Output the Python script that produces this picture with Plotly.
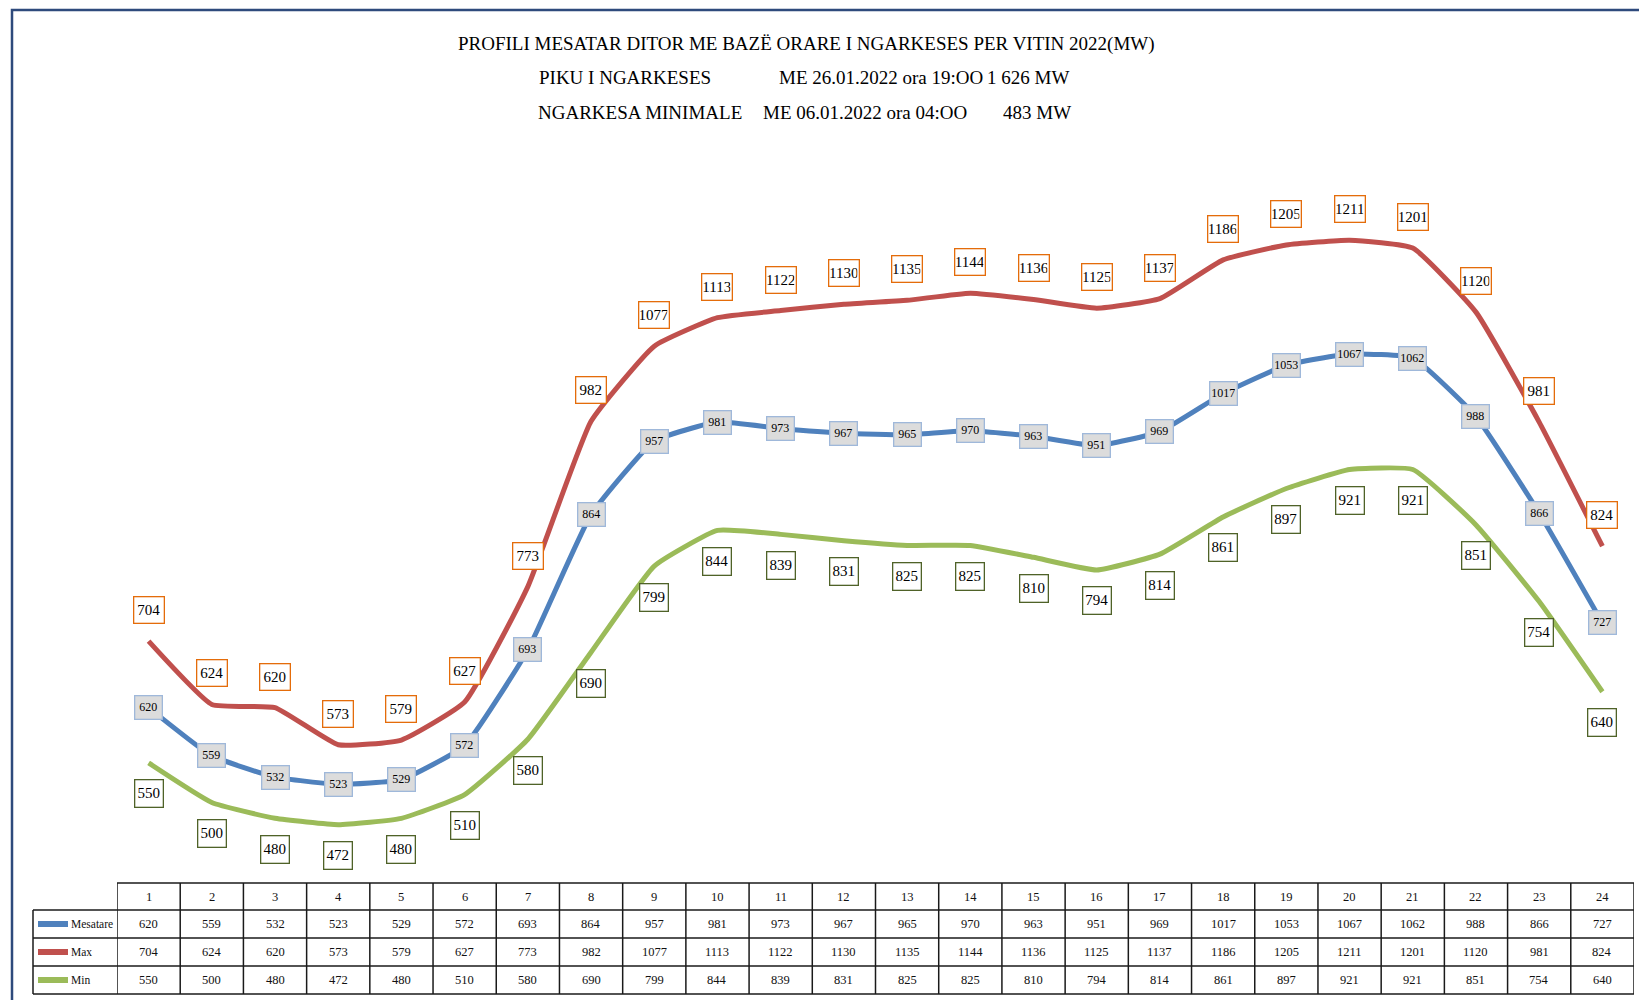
import plotly.graph_objects as go

# ---------------- data ----------------
hours = list(range(1, 25))
mesatare = [620, 559, 532, 523, 529, 572, 693, 864, 957, 981, 973, 967,
            965, 970, 963, 951, 969, 1017, 1053, 1067, 1062, 988, 866, 727]
maks = [704, 624, 620, 573, 579, 627, 773, 982, 1077, 1113, 1122, 1130,
        1135, 1144, 1136, 1125, 1137, 1186, 1205, 1211, 1201, 1120, 981, 824]
mins = [550, 500, 480, 472, 480, 510, 580, 690, 799, 844, 839, 831,
        825, 825, 810, 794, 814, 861, 897, 921, 921, 851, 754, 640]
series_names = ["Mesatare", "Max", "Min"]

title_line1 = "PROFILI MESATAR DITOR ME BAZË ORARE I NGARKESES PER VITIN 2022(MW)"
title_parts2 = ["PIKU I NGARKESES", "ME 26.01.2022 ora 19:OO", "1 626 MW"]
title_parts3 = ["NGARKESA MINIMALE", "ME 06.01.2022 ora 04:OO", "483 MW"]

# ---------------- layout helpers ----------------
W, H = 1639, 1000
ML, MR, MT, MB = 117, 5, 150, 120
PW = W - ML - MR
PH = H - MT - MB


def fx(px):
    return (px - ML) / PW


def fy(py):
    return (H - MB - py) / PH


FONT = "Liberation Serif, Times New Roman, serif"
colors = {"Mesatare": "#4F81BD", "Max": "#C0504D", "Min": "#9BBB59"}
values = {"Mesatare": mesatare, "Max": maks, "Min": mins}

fig = go.Figure()
for name in ["Max", "Mesatare", "Min"]:
    fig.add_trace(go.Scatter(
        x=hours, y=values[name], name=name, mode="lines",
        line=dict(color=colors[name], width=5, shape="spline", smoothing=0.4),
        showlegend=False, hoverinfo="x+y+name"))

annotations = []
shapes = []

# data labels
label_style = {
    "Max": dict(bordercolor="#E46C0A", bgcolor="#FFFFFF", size=15, w=27, h=23, shift=31),
    "Mesatare": dict(bordercolor="#9FB8DA", bgcolor="#DCDCDC", size=12, w=24, h=20, shift=0),
    "Min": dict(bordercolor="#4F6228", bgcolor="#FFFFFF", size=15, w=25, h=24, shift=-31),
}
for name in series_names:
    st = label_style[name]
    for h, v in zip(hours, values[name]):
        annotations.append(dict(
            x=h, y=v, xref="x", yref="y", text=str(v), showarrow=False,
            yshift=st["shift"], width=st["w"], height=st["h"],
            bordercolor=st["bordercolor"], borderwidth=1.3, borderpad=1,
            bgcolor=st["bgcolor"],
            font=dict(family=FONT, size=st["size"], color="#000000")))

# titles
tfont = dict(family=FONT, size=19, color="#000")
annotations.append(dict(x=fx(806), y=fy(44), xref="paper", yref="paper",
                        text=title_line1, showarrow=False, xanchor="center",
                        yanchor="middle", font=tfont))
for txt, xp, anc in zip(title_parts2, [537, 777, 1071], ["left", "left", "right"]):
    annotations.append(dict(x=fx(xp), y=fy(78), xref="paper", yref="paper",
                            text=txt, showarrow=False, xanchor=anc,
                            yanchor="middle", font=tfont))
for txt, xp, anc in zip(title_parts3, [536, 761, 1073], ["left", "left", "right"]):
    annotations.append(dict(x=fx(xp), y=fy(113), xref="paper", yref="paper",
                            text=txt, showarrow=False, xanchor=anc,
                            yanchor="middle", font=tfont))

# ---------------- data table ----------------
row_edges = [883, 910, 938, 966, 994]
label_left = 33
line_c = "#1a1a1a"
cfont = dict(family=FONT, size=12.5, color="#111")
# vertical lines of data columns
for k in range(25):
    shapes.append(dict(type="line", xref="x", yref="paper",
                       x0=0.5 + k, x1=0.5 + k, y0=fy(row_edges[0]), y1=fy(row_edges[-1]),
                       line=dict(color=line_c, width=1.5)))
# label column left edge
shapes.append(dict(type="line", xref="paper", yref="paper",
                   x0=fx(label_left), x1=fx(label_left), y0=fy(row_edges[1]), y1=fy(row_edges[-1]),
                   line=dict(color=line_c, width=1.5)))
# horizontal lines
shapes.append(dict(type="line", xref="paper", yref="paper",
                   x0=fx(ML), x1=1, y0=fy(row_edges[0]), y1=fy(row_edges[0]),
                   line=dict(color=line_c, width=1.5)))
for r in row_edges[1:]:
    shapes.append(dict(type="line", xref="paper", yref="paper",
                       x0=fx(label_left), x1=1, y0=fy(r), y1=fy(r),
                       line=dict(color=line_c, width=1.5)))

# header text
hc = (row_edges[0] + row_edges[1]) / 2
for h in hours:
    annotations.append(dict(x=h, y=fy(hc), xref="x", yref="paper", text=str(h),
                            showarrow=False, yanchor="middle", xanchor="center",
                            font=cfont))
# rows
for i, name in enumerate(series_names):
    rc = (row_edges[i + 1] + row_edges[i + 2]) / 2
    shapes.append(dict(type="line", xref="paper", yref="paper",
                       x0=fx(38), x1=fx(68), y0=fy(rc), y1=fy(rc),
                       line=dict(color=colors[name], width=6)))
    annotations.append(dict(x=fx(69), y=fy(rc), xref="paper", yref="paper", text=name,
                            showarrow=False, xanchor="left", yanchor="middle",
                            font=dict(family=FONT, size=11.5, color="#111")))
    for h, v in zip(hours, values[name]):
        annotations.append(dict(x=h, y=fy(rc), xref="x", yref="paper", text=str(v),
                                showarrow=False, yanchor="middle", xanchor="center",
                                font=cfont))

# outer frame
shapes.append(dict(type="rect", xref="paper", yref="paper",
                   x0=fx(12), x1=fx(1660), y0=fy(10), y1=fy(1020),
                   line=dict(color="#2E4A7C", width=2.5), fillcolor="rgba(0,0,0,0)"))

fig.update_layout(
    width=W, height=H,
    margin=dict(l=ML, r=MR, t=MT, b=MB),
    paper_bgcolor="white", plot_bgcolor="white",
    xaxis=dict(range=[0.5, 24.5], visible=False, fixedrange=True),
    yaxis=dict(range=[402, 1325], visible=False, fixedrange=True),
    annotations=annotations, shapes=shapes,
    showlegend=False,
)

fig.write_html("out.html")
